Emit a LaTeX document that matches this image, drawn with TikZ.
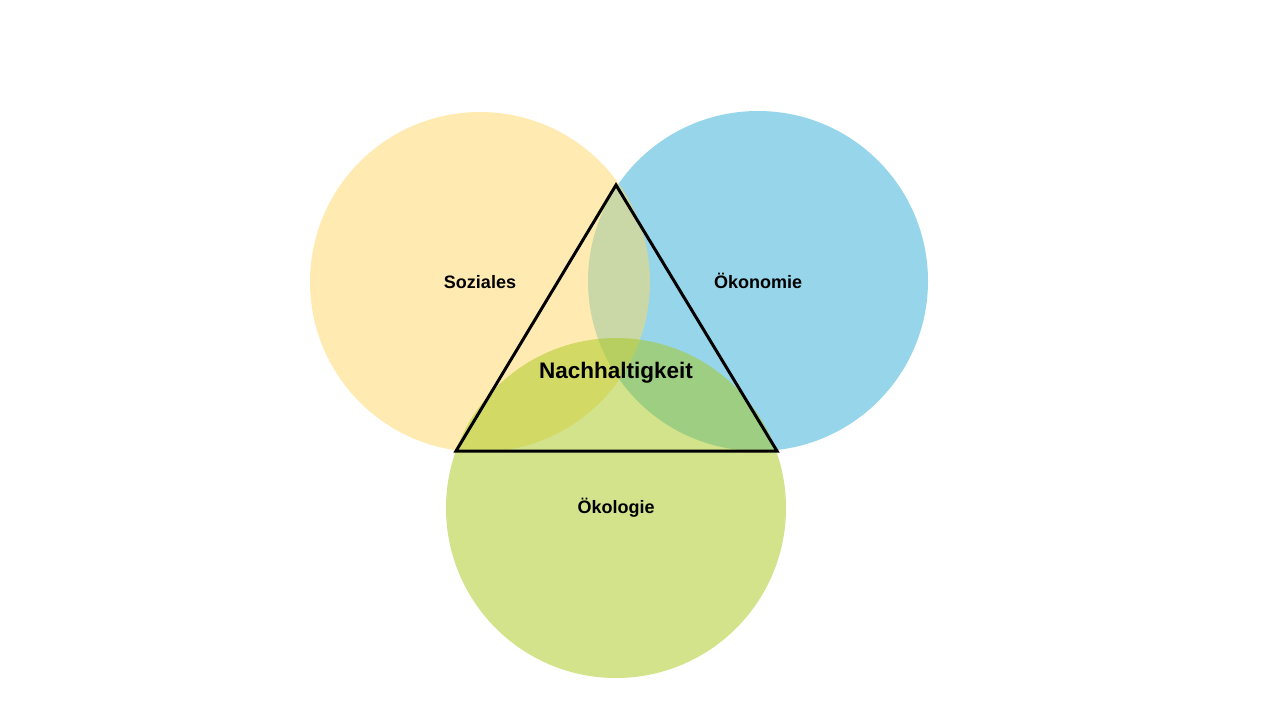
\documentclass[tikz,border=0pt]{standalone}
\usepackage{fontspec}
\setmainfont{Liberation Sans}
\usepackage{tikz}
\definecolor{sozcol}{RGB}{255,217,102}
\definecolor{okncol}{RGB}{46,173,215}
\definecolor{oklcol}{RGB}{166,200,26}
\begin{document}
\begin{tikzpicture}[x=1pt,y=-1pt]
 \tikzstyle{ring} = [circle,minimum size=340pt,inner sep=0,fill opacity=0.5,text opacity=1]
 \tikzstyle{lbl} = [font=\fontsize{18}{20}\selectfont\bfseries]
 \useasboundingbox[fill=white] (0,0) rectangle (1280,720);

 \node[ring,fill=okncol] (okn) at (758,281) {};
 \node[ring,fill=sozcol] (soz) at (480,282) {};
 \node[ring,fill=oklcol] (okl) at (616,508) {};

 \node[lbl] at (soz) {Soziales};
 \node[lbl] at (okn) {Ökonomie};
 \node[lbl] at (okl) {Ökologie};

 \coordinate (top) at (616,185);
 \coordinate (bl) at (456,451);
 \coordinate (br) at (777,451);
 \draw[line width=3pt,line join=miter] (top) -- (br) -- (bl) -- cycle;
 \node[font=\fontsize{22.5}{24}\selectfont\bfseries] (nh) at (616,373) {Nachhaltigkeit};
\end{tikzpicture}
\end{document}
